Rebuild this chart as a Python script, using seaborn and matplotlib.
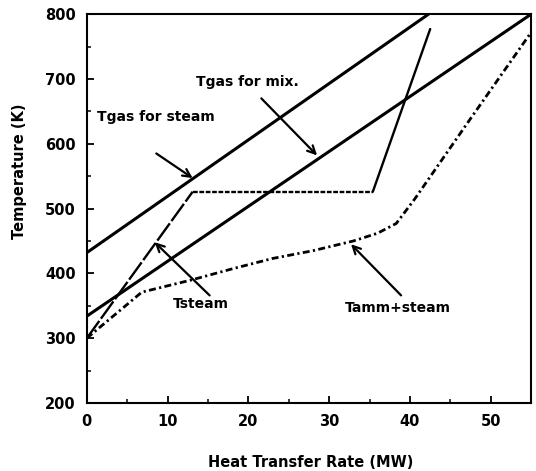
import numpy as np
import pandas as pd
import matplotlib
matplotlib.use("Agg")
import matplotlib.pyplot as plt
import seaborn as sns
from matplotlib.ticker import MultipleLocator

# Data
gas_steam_q = [0, 42.3]
gas_steam_t = [432, 800]
gas_mix_q = [0, 55]
gas_mix_t = [334, 800]
steam_q = [0, 13.1, 35.4, 42.5]
steam_t = [300, 526, 526, 777]
amm_q = [0, 6.8, 13, 18, 23, 28, 33, 36, 38.3, 40.6, 47, 55]
amm_t = [300, 371, 390, 407, 423, 435, 450, 462, 477, 515, 630, 772]

sns.set_style("ticks")
plt.rcParams['font.family'] = ['DejaVu Sans']
plt.rcParams['text.color'] = 'black'
plt.rcParams['axes.labelcolor'] = 'black'
plt.rcParams['xtick.color'] = 'black'
plt.rcParams['ytick.color'] = 'black'

fig = plt.figure(figsize=(5.36, 4.71), dpi=100)
ax = fig.add_axes([0.162, 0.1444, 0.829, 0.8256])

df_gs = pd.DataFrame({"q": gas_steam_q, "t": gas_steam_t})
df_gm = pd.DataFrame({"q": gas_mix_q, "t": gas_mix_t})
df_am = pd.DataFrame({"q": amm_q, "t": amm_t})

sns.lineplot(data=df_gs, x="q", y="t", ax=ax, color="black", lw=2.2, sort=False)
sns.lineplot(data=df_gm, x="q", y="t", ax=ax, color="black", lw=2.2, sort=False)

# Tsteam drawn segment by segment (different dash appearance per segment)
steam_styles = [(0, (9, 1.2)), (0, (2, 0.7)), "-"]
for i, ls in enumerate(steam_styles):
    seg = pd.DataFrame({"q": steam_q[i:i + 2], "t": steam_t[i:i + 2]})
    sns.lineplot(data=seg, x="q", y="t", ax=ax, color="black", lw=1.7, sort=False,
                 linestyle=ls)

sns.lineplot(data=df_am, x="q", y="t", ax=ax, color="black", lw=2.0, sort=False,
             linestyle=(0, (2.5, 1.2, 0.8, 1.2)))

ax.set_xlim(0, 55)
ax.set_ylim(200, 800)
ax.xaxis.set_major_locator(MultipleLocator(10))
ax.xaxis.set_minor_locator(MultipleLocator(5))
ax.yaxis.set_major_locator(MultipleLocator(100))
ax.yaxis.set_minor_locator(MultipleLocator(50))
ax.tick_params(which="major", direction="in", length=5, width=1.3, labelsize=10.5, pad=8)
ax.tick_params(which="minor", direction="in", length=3, width=1.1)
for lab in ax.get_xticklabels() + ax.get_yticklabels():
    lab.set_fontweight("bold")
for s in ax.spines.values():
    s.set_linewidth(1.5)
    s.set_color("black")

ax.set_xlabel("Heat Transfer Rate (MW)", fontsize=10.5, fontweight="bold")
ax.set_ylabel("Temperature (K)", fontsize=10.5, fontweight="bold")
ax.xaxis.set_label_coords(0.503, -0.133)
ax.yaxis.set_label_coords(-0.134, 0.595)

arrow = dict(arrowstyle="->", color="black", lw=1.6, mutation_scale=14, shrinkA=0, shrinkB=0)
ann_kw = dict(fontsize=10, fontweight="bold", ha="center", va="center", color="black")
ax.annotate("", xy=(13.1, 547), xytext=(8.6, 585), arrowprops=arrow)
ax.text(8.6, 641, "Tgas for steam", **ann_kw)
ax.annotate("", xy=(28.5, 582), xytext=(21.6, 670), arrowprops=arrow)
ax.text(19.9, 695, "Tgas for mix.", **ann_kw)
ax.annotate("", xy=(8.4, 448), xytext=(15.2, 366), arrowprops=arrow)
ax.text(14.1, 352, "Tsteam", **ann_kw)
ax.annotate("", xy=(32.7, 445), xytext=(38.9, 366), arrowprops=arrow)
ax.text(38.5, 347, "Tamm+steam", **ann_kw)

fig.savefig("out.png", dpi=100)
